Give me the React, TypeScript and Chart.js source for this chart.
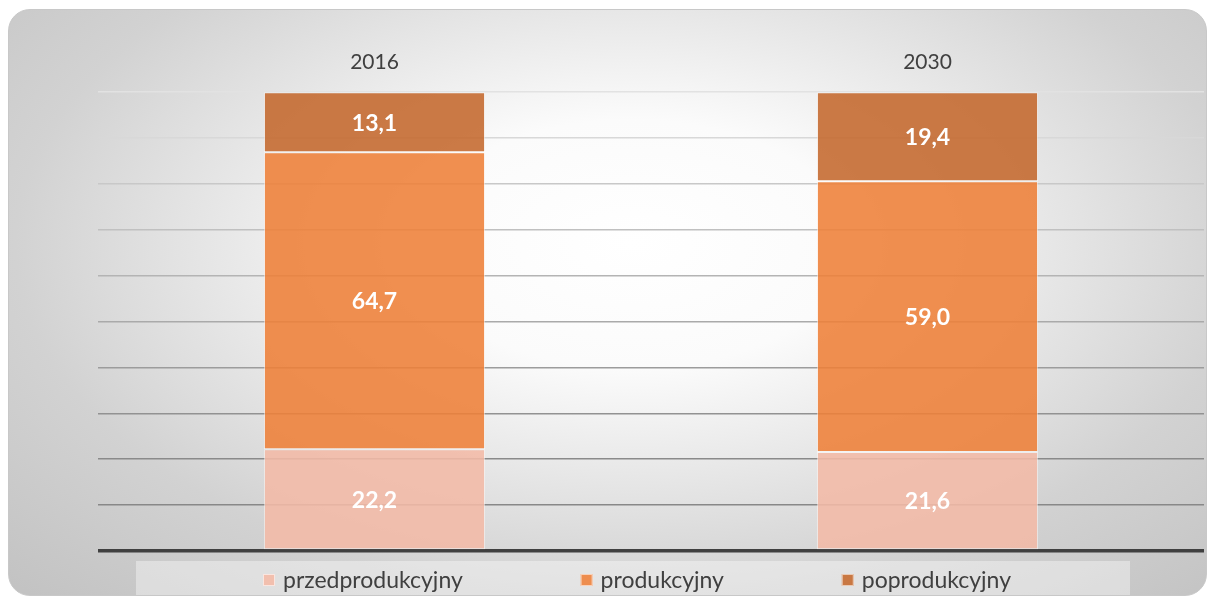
import React, { useEffect, useRef } from "react";
import { Chart, registerables } from "chart.js";

Chart.register(...registerables);

const categories = ["2016", "2030"];
const seriesNames = ["przedprodukcyjny", "produkcyjny", "poprodukcyjny"];
const przedprodukcyjny = [22.2, 21.6];
const produkcyjny = [64.7, 59.0];
const poprodukcyjny = [13.1, 19.4];
const seriesColors = ["rgba(242,186,166,0.88)", "rgba(238,128,56,0.88)", "rgba(196,104,44,0.88)"];
const legendColors = ["#f2bfae", "#ee8d4e", "#c97843"];
const gridGrays = [64, 136, 138, 146, 156, 170, 180, 192, 200, 216, 226];

const FONT = "Lato, 'Open Sans', 'Liberation Sans', sans-serif";

const labelPlugin = {
  id: "barLabels",
  afterDatasetsDraw(chart: any) {
    const ctx = chart.ctx;
    ctx.save();
    ctx.fillStyle = "#ffffff";
    ctx.font = `bold 23px ${FONT}`;
    ctx.textAlign = "center";
    ctx.textBaseline = "middle";
    chart.data.datasets.forEach((ds: any, di: number) => {
      const meta = chart.getDatasetMeta(di);
      meta.data.forEach((bar: any, i: number) => {
        const v = ds.data[i] as number;
        const yc = (bar.y + bar.base) / 2;
        ctx.fillText(v.toFixed(1).replace(".", ","), bar.x, yc + 1);
      });
    });
    ctx.restore();
  },
};

const legendPlugin = {
  id: "customLegend",
  afterDraw(chart: any) {
    const ctx = chart.ctx;
    const bandL = 127;
    const bandR = 1121;
    const bandT = 551;
    const bandB = chart.height;
    ctx.save();
    ctx.fillStyle = "rgba(255,255,255,0.38)";
    ctx.fillRect(bandL, bandT, bandR - bandL, bandB - bandT);
    ctx.font = `23px ${FONT}`;
    ctx.textBaseline = "middle";
    const box = 12;
    const gapBox = 8;
    const span = 748;
    const widths = seriesNames.map((n) => box + gapBox + ctx.measureText(n).width);
    const sum = widths.reduce((a, b) => a + b, 0);
    const gap = (span - sum) / (seriesNames.length - 1);
    let x = 628 - span / 2;
    const yc = 570;
    seriesNames.forEach((n, i) => {
      ctx.fillStyle = legendColors[i];
      ctx.fillRect(x, yc - box / 2, box, box);
      ctx.strokeStyle = "rgba(255,255,255,0.6)";
      ctx.lineWidth = 1;
      ctx.strokeRect(x + 0.5, yc - box / 2 + 0.5, box - 1, box - 1);
      ctx.fillStyle = "#404040";
      ctx.fillText(n, x + box + gapBox, yc + 1);
      x += widths[i] + gap;
    });
    ctx.restore();
  },
};

export default function App() {
  const ref = useRef<HTMLCanvasElement | null>(null);
  useEffect(() => {
    if (!ref.current) return;
    const chart = new Chart(ref.current, {
      type: "bar",
      data: {
        labels: categories,
        datasets: [
          { label: seriesNames[0], data: przedprodukcyjny, backgroundColor: seriesColors[0] },
          { label: seriesNames[1], data: produkcyjny, backgroundColor: seriesColors[1] },
          { label: seriesNames[2], data: poprodukcyjny, backgroundColor: seriesColors[2] },
        ].map((d) => ({
          ...d,
          borderColor: "rgba(255,255,255,0.55)",
          borderWidth: 1,
          borderSkipped: false,
          barPercentage: 0.4,
          categoryPercentage: 1.0,
        })),
      },
      options: {
        animation: false,
        responsive: true,
        maintainAspectRatio: false,
        layout: { padding: { left: 89, right: 2, top: 23, bottom: 44 } },
        plugins: { legend: { display: false }, tooltip: { enabled: false } },
        scales: {
          x: {
            position: "top",
            stacked: true,
            grid: { display: false, drawTicks: false },
            border: { display: false },
            ticks: { color: "#404040", font: { family: FONT, size: 21 }, padding: 17 },
          },
          y: {
            stacked: true,
            min: 0,
            max: 100,
            ticks: { display: false, stepSize: 10 },
            border: { display: false },
            grid: {
              drawTicks: false,
              color: (c: any) => {
                const g = gridGrays[c.index] ?? 220;
                return `rgb(${g},${g},${g})`;
              },
              lineWidth: (c: any) => (c.index === 0 ? 3.5 : 1.5),
            },
          },
        },
      },
      plugins: [labelPlugin, legendPlugin],
    });
    return () => chart.destroy();
  }, []);

  return (
    <div
      style={{
        position: "absolute",
        left: 8,
        top: 9,
        width: 1199,
        height: 587,
        borderRadius: 22,
        border: "1px solid #c8c8c8",
        boxSizing: "border-box",
        overflow: "hidden",
        background:
          "radial-gradient(ellipse farthest-corner at 52% 40%, #ffffff 0%, #fbfbfb 25%, #d2d2d2 70%, #c2c2c2 100%)",
      }}
    >
      <canvas ref={ref} />
    </div>
  );
}
